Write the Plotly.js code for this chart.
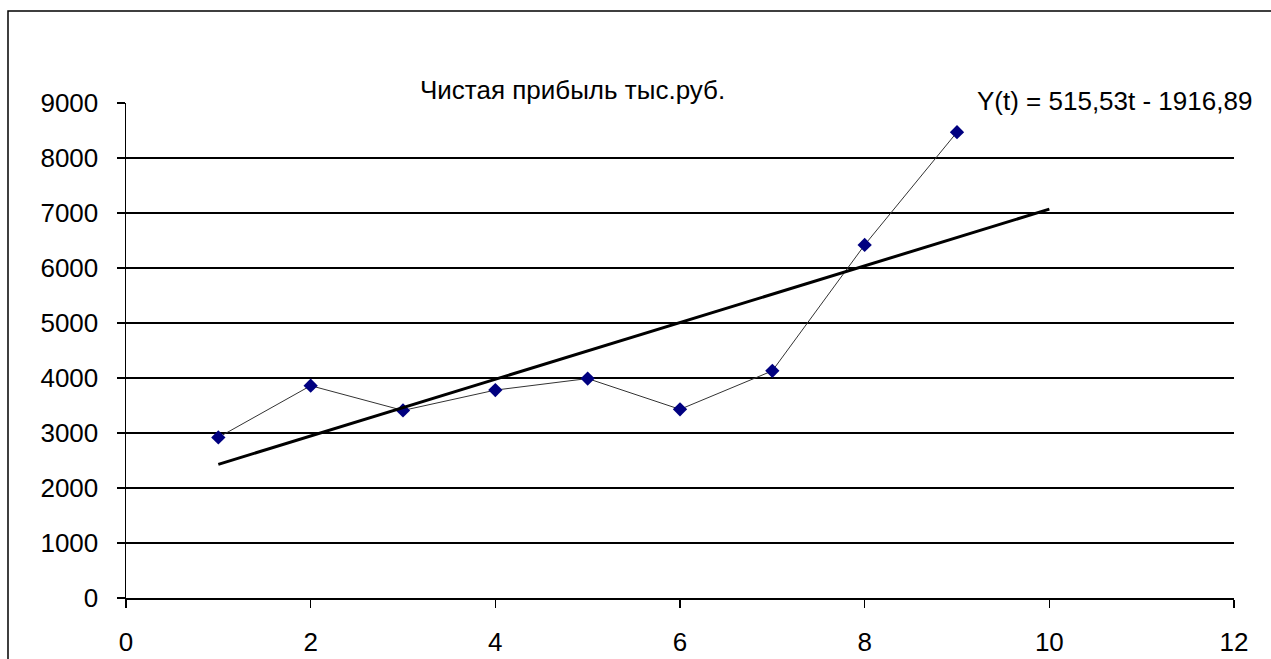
<!DOCTYPE html>
<html>
<head>
<meta charset="utf-8">
<script src="https://cdn.plot.ly/plotly-3.0.1.min.js"></script>
<style>
html,body{margin:0;padding:0;background:#fff;}
#chart{width:1271px;height:659px;}
</style>
</head>
<body>
<div id="chart"></div>
<script>
// Data
const periods = [1, 2, 3, 4, 5, 6, 7, 8, 9];
const profit = [2920, 3860, 3410, 3780, 3990, 3430, 4130, 6420, 8470];
const trendX = [1, 10];
const trendY = [2430, 7070];
const chartTitle = 'Чистая прибыль тыс.руб.';
const equationText = 'Y(t) = 515,53t - 1916,89';
const yTicks = [0, 1000, 2000, 3000, 4000, 5000, 6000, 7000, 8000, 9000];
const yGrid = [1000, 2000, 3000, 4000, 5000, 6000, 7000, 8000];
const xTicks = [0, 2, 4, 6, 8, 10, 12];

const fam = 'Liberation Sans, Arial, sans-serif';
const font = {family: fam, size: 26, color: '#000'};

const traces = [
  {
    x: periods, y: profit, type: 'scatter', mode: 'lines+markers',
    line: {color: '#333333', width: 1},
    marker: {symbol: 'diamond', size: 11, color: '#000080'},
    showlegend: false, hoverinfo: 'x+y'
  },
  {
    x: trendX, y: trendY, type: 'scatter', mode: 'lines',
    line: {color: '#000000', width: 3},
    showlegend: false, hoverinfo: 'none'
  },
  {
    x: [0], y: [0], yaxis: 'y2', type: 'scatter', mode: 'markers',
    marker: {opacity: 0}, showlegend: false, hoverinfo: 'none'
  }
];

const layout = {
  width: 1271, height: 659,
  margin: {l: 126, r: 37, t: 103, b: 61},
  paper_bgcolor: '#ffffff', plot_bgcolor: 'rgba(0,0,0,0)',
  font: font,
  showlegend: false,
  xaxis: {
    range: [0, 12], tickvals: xTicks, ticktext: xTicks.map(String),
    showgrid: false, zeroline: false,
    showline: true, linecolor: '#000', linewidth: 1.5,
    ticks: 'outside', ticklen: 8, tickwidth: 1.5, tickcolor: '#000',
    ticklabelstandoff: 12,
    tickfont: font, fixedrange: true
  },
  yaxis: {
    range: [0, 9000], tickvals: yTicks, ticktext: yTicks.map(String),
    showgrid: false, zeroline: false,
    showline: true, linecolor: '#000', linewidth: 1.5,
    ticks: 'outside', ticklen: 8, tickwidth: 1.5, tickcolor: '#000',
    ticklabelstandoff: 13,
    tickfont: font, fixedrange: true
  },
  yaxis2: {
    overlaying: 'y', range: [0, 9000], tickvals: yGrid,
    showgrid: true, gridcolor: '#000', gridwidth: 1.5,
    showticklabels: false, ticks: '', zeroline: false, showline: false,
    fixedrange: true
  },
  annotations: [
    {
      text: chartTitle, xref: 'paper', yref: 'paper',
      x: 0.403, y: 1.026, xanchor: 'center', yanchor: 'middle',
      showarrow: false, font: {family: fam, size: 26, color: '#000'}
    },
    {
      text: equationText, xref: 'paper', yref: 'paper',
      x: 0.8917, y: 1.004, xanchor: 'center', yanchor: 'middle',
      showarrow: false, font: {family: fam, size: 26, color: '#000'}
    }
  ],
  shapes: [
    {
      type: 'rect', xref: 'paper', yref: 'paper',
      x0: -0.1065, x1: 1.05, y0: -0.2, y1: 1.1859,
      line: {color: '#000', width: 1.5}, fillcolor: 'rgba(0,0,0,0)', layer: 'below'
    }
  ]
};

Plotly.newPlot('chart', traces, layout, {displayModeBar: false, staticPlot: true});
</script>
</body>
</html>
